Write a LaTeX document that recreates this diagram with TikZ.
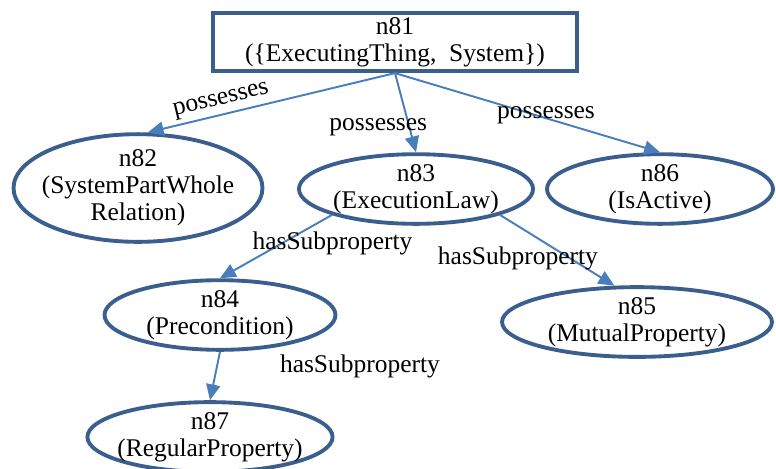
\documentclass[tikz,border=0pt]{standalone}
\usepackage{fontspec}
\setmainfont{Liberation Serif}
\usetikzlibrary{shapes.geometric,arrows.meta}
\definecolor{nodeblue}{HTML}{3A5F8E}
\definecolor{edgeblue}{HTML}{4A7EBB}
\begin{document}
\begin{tikzpicture}[x=0.02cm,y=-0.02cm,
    txt/.style={font=\fontsize{14.5}{15.3}\selectfont},
    ent/.style={txt, ellipse, draw=nodeblue, line width=2.2pt, inner sep=0pt, align=center},
    root/.style={txt, rectangle, draw=nodeblue, line width=2.4pt, inner sep=0pt, align=center,
        minimum width=7.28cm, minimum height=1.16cm},
    arr/.style={draw=edgeblue, line width=1.1pt, -{Triangle[length=9pt,width=8pt]}},
    lbl/.style={txt, inner sep=1pt}]
    \useasboundingbox (0,0) rectangle (776,468);

    % Nodes
    \node [root] (n81) at (395,42) {n81\\(\{ExecutingThing,\ \ System\})};
    \node [ent, inner xsep=-0.17cm, minimum width=4.98cm, minimum height=1.58cm] (n82) at (138,188) {n82\\(SystemPartWhole\\Relation)};
    \node [ent, minimum width=4.66cm, minimum height=1.18cm] (n83) at (416,189) {n83\\(ExecutionLaw)};
    \node [ent, minimum width=4.52cm, minimum height=1.24cm] (n86) at (660,189) {n86\\(IsActive)};
    \node [ent, minimum width=4.62cm, minimum height=1.16cm] (n84) at (220,315) {n84\\(Precondition)};
    \node [ent, minimum width=5.40cm, minimum height=1.16cm] (n85) at (637,322) {n85\\(MutualProperty)};
    \node [ent, inner xsep=-0.12cm, minimum width=4.84cm, minimum height=1.26cm] (n87) at (210,437) {n87\\(RegularProperty)};

    % Arrows
    \draw [arr] (n81.south) -- node [lbl, pos=0.69, sloped, above=1pt] {possesses} (n82.80);
    \draw [arr] (n81.south) -- node [lbl, pos=0.68, xshift=-0.62cm] {possesses} (n83.north);
    \draw [arr] (n81.south) -- node [lbl, pos=0.57, yshift=0.06cm] {possesses} (n86.north);
    \draw [arr] (n83.south west) -- node [lbl, pos=0.45, xshift=1.02cm] {hasSubproperty} (n84.north);
    \draw [arr] (n83.south east) -- node [lbl, pos=0.62, xshift=-1.06cm] {hasSubproperty} (n85.122);
    \draw [arr] (n84.south) -- node [lbl, pos=0.3, xshift=2.86cm] {hasSubproperty} (n87.north);
\end{tikzpicture}
\end{document}
